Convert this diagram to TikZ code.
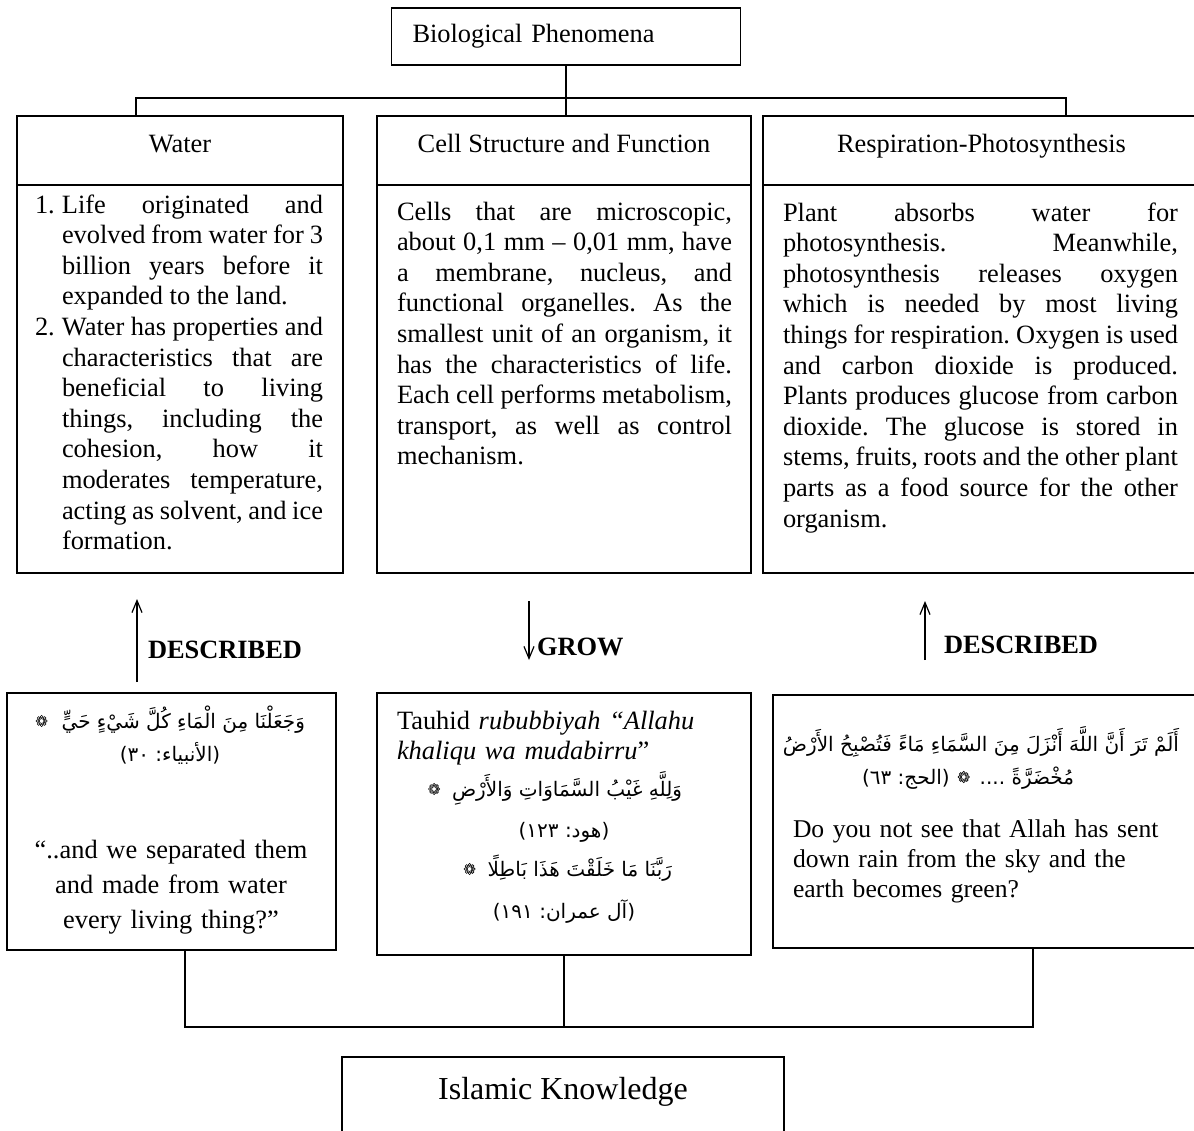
\documentclass[tikz,border=0pt]{standalone}
\usepackage{fontspec}
\setmainfont{Liberation Serif}
\newfontfamily\arabicfont[Script=Arabic]{DejaVu Sans}
\TeXXeTstate=1
\usetikzlibrary{arrows.meta,positioning}
\frenchspacing
\newcommand{\bodyfont}{\fontsize{13.2}{15.3}\selectfont}
\newcommand{\rtl}[1]{\beginR #1\endR}
\newcommand{\numitem}[1]{\hangindent=13.5pt\hangafter=1\noindent\makebox[13.5pt][l]{#1}}

\begin{document}
\begin{tikzpicture}[
    x=0.5pt, y=-0.5pt,
    every node/.style={inner sep=0pt, outer sep=0pt},
    head/.style={draw, line width=0.6pt, minimum height=34.5pt, font=\bodyfont,
                 text height=9pt, text depth=7pt},
    body/.style={draw, line width=0.6pt, minimum height=194pt},
    para/.style={font=\bodyfont, align=justify, anchor=base west},
    verse/.style={draw, line width=1.1pt},
    arab/.style={font=\arabicfont\fontsize{10}{12}\selectfont, anchor=base east},
    link/.style={line width=0.7pt},
    tag/.style={font=\bodyfont\bfseries, anchor=west},
    pointer/.style={line width=0.6pt, -{Straight Barb[length=6pt,width=5pt]}},
    hizb/.pic={\draw[line width=0.3pt] (0,0) circle (1.2pt);
               \foreach \a in {0,45,...,315} \draw[line width=0.3pt] (\a:2.1pt) circle (0.7pt);}
]
    \useasboundingbox (0,0) rectangle (1194,1130);
    \clip (0,0) rectangle (1194,1130);

    \node[draw, line width=0.6pt, minimum height=28.5pt, text width=153.5pt, inner xsep=10.5pt,
          align=left, font=\bodyfont] (bio) at (566,36.5) {Biological Phenomena};

    \node[head, minimum width=163pt] (waterhead) at (180,150.5) {Water};
    \node[head, minimum width=187pt] (cellhead) at (564,150.5) {Cell Structure and Function};
    \node[head, minimum width=218.5pt] (resphead) at (981.5,150.5) {Respiration-Photosynthesis};
    \node[body, minimum width=163pt, below=0pt of waterhead] (waterbody) {};
    \node[body, minimum width=187pt, below=0pt of cellhead] (cellbody) {};
    \node[body, minimum width=218.5pt, below=0pt of resphead] (respbody) {};

    \node[para, text width=144pt] (watertext) at (35,213) {%
        \numitem{1.}Life originated and\linebreak evolved from water for 3\linebreak
        billion years before it\linebreak expanded to the land.\par
        \numitem{2.}Water has properties and\linebreak characteristics that are\linebreak
        beneficial to living\linebreak things, including the\linebreak cohesion, how it\linebreak
        moderates temperature,\linebreak acting as solvent, and ice\linebreak formation.\par};
    \node[para, text width=167.5pt] (celltext) at (397,220) {%
        Cells that are microscopic,\linebreak about 0,1 mm -- 0,01 mm, have\linebreak
        a membrane, nucleus, and\linebreak functional organelles. As the\linebreak
        smallest unit of an organism, it\linebreak has the characteristics of life.\linebreak
        Each cell performs metabolism,\linebreak transport, as well as control\linebreak
        mechanism.};
    \node[para, text width=197.5pt] (resptext) at (783,221) {%
        Plant absorbs water for\linebreak photosynthesis. Meanwhile,\linebreak
        photosynthesis releases oxygen\linebreak which is needed by most living\linebreak
        things for respiration. Oxygen is used\linebreak and carbon dioxide is produced.\linebreak
        Plants produces glucose from carbon\linebreak dioxide. The glucose is stored in\linebreak
        stems, fruits, roots and the other plant\linebreak parts as a food source for the other\linebreak
        organism.};

    \coordinate (topL) at (136,98);
    \coordinate (topR) at (1066,98);
    \draw[link] (topL |- waterhead.north) -- (topL) -- (topR) -- (topR |- resphead.north);
    \draw[link] (bio.south) -- (bio.south |- cellhead.north);

    \coordinate (arrowA) at (137,682);
    \coordinate (arrowAtip) at (137,599);
    \coordinate (arrowB) at (529,601);
    \coordinate (arrowBtip) at (529,660);
    \coordinate (arrowC) at (925,660);
    \coordinate (arrowCtip) at (925,601);
    \draw[pointer] (arrowA) -- (arrowAtip);
    \draw[pointer] (arrowB) -- (arrowBtip);
    \draw[pointer] (arrowC) -- (arrowCtip);
    \node[tag] (described1) at (148,650) {DESCRIBED};
    \node[tag] (grow) at (537,647) {GROW};
    \node[tag] (described2) at (944,645) {DESCRIBED};

    \node[verse, minimum width=164.5pt, minimum height=128.5pt] (ayah1) at (171.5,821.5) {};
    \node[draw, line width=0.6pt, minimum width=187pt, minimum height=131pt] (ayah2) at (564,824) {};
    \node[verse, minimum width=213.5pt, minimum height=126.5pt] (ayah3) at (986.5,821.5) {};

    \node[arab] (anbiya) at (305,728) {\rtl{وَجَعَلْنَا مِنَ الْمَاءِ كُلَّ شَيْءٍ حَيٍّ}};
    \pic (orn1) at ([xshift=-10pt, yshift=3.5pt]anbiya.base west) {hizb};
    \node[arab, anchor=base] (anbiyaref) at (170,761) {\rtl{(الأنبياء: ٣٠)}};
    \node[font=\fontsize{13.2}{17.5}\selectfont, text width=160pt, align=center, anchor=base]
        (anbiyaen) at (171,858) {``..and we separated them\\ and made from water\\ every living thing?''};

    \node[font=\bodyfont, text width=170pt, align=left, anchor=base west] (tauhid) at (397,729)
        {Tauhid \textit{rububbiyah ``Allahu}\\ \textit{khaliqu wa mudabirru}''};
    \node[arab] (hud) at (682,796) {\rtl{وَلِلَّهِ غَيْبُ السَّمَاوَاتِ وَالأَرْضِ}};
    \pic (orn2) at ([xshift=-9pt, yshift=3.5pt]hud.base west) {hizb};
    \node[arab, anchor=base] (hudref) at (564,837) {\rtl{(هود: ١٢٣)}};
    \node[arab] (imran) at (672,876) {\rtl{رَبَّنَا مَا خَلَقْتَ هَذَا بَاطِلًا}};
    \pic (orn3) at ([xshift=-9pt, yshift=3.5pt]imran.base west) {hizb};
    \node[arab, anchor=base] (imranref) at (564,918) {\rtl{(آل عمران: ١٩١)}};

    \node[arab, anchor=base] (hajj1) at (981,751) {\rtl{أَلَمْ تَرَ أَنَّ اللَّهَ أَنْزَلَ مِنَ السَّمَاءِ مَاءً فَتُصْبِحُ الأَرْضُ}};
    \node[arab] (hajj2) at (1074,784) {\rtl{مُخْضَرَّةً ....}};
    \pic (orn4) at ([xshift=-8pt, yshift=3.5pt]hajj2.base west) {hizb};
    \node[arab] (hajjref) at ([xshift=-15pt]hajj2.base west) {\rtl{(الحج: ٦٣)}};
    \node[font=\fontsize{12.8}{15.2}\selectfont, text width=200pt, align=left, anchor=base west]
        (hajjen) at (793,837)
        {Do you not see that Allah has sent\\ down rain from the sky and the\\ earth becomes green?};

    \coordinate (lowL) at (185,1027);
    \coordinate (lowR) at (1033,1027);
    \draw[link] (ayah1.south -| lowL) -- (lowL) -- (lowR) -- (ayah3.south -| lowR);
    \draw[link] (ayah2.south) -- (ayah2.south |- lowL);

    \node[draw, line width=0.6pt, minimum width=221pt, minimum height=42pt,
          font=\fontsize{16}{19}\selectfont, text height=12pt, text depth=12pt]
        (islam) at (563,1099) {Islamic Knowledge};
\end{tikzpicture}
\end{document}
